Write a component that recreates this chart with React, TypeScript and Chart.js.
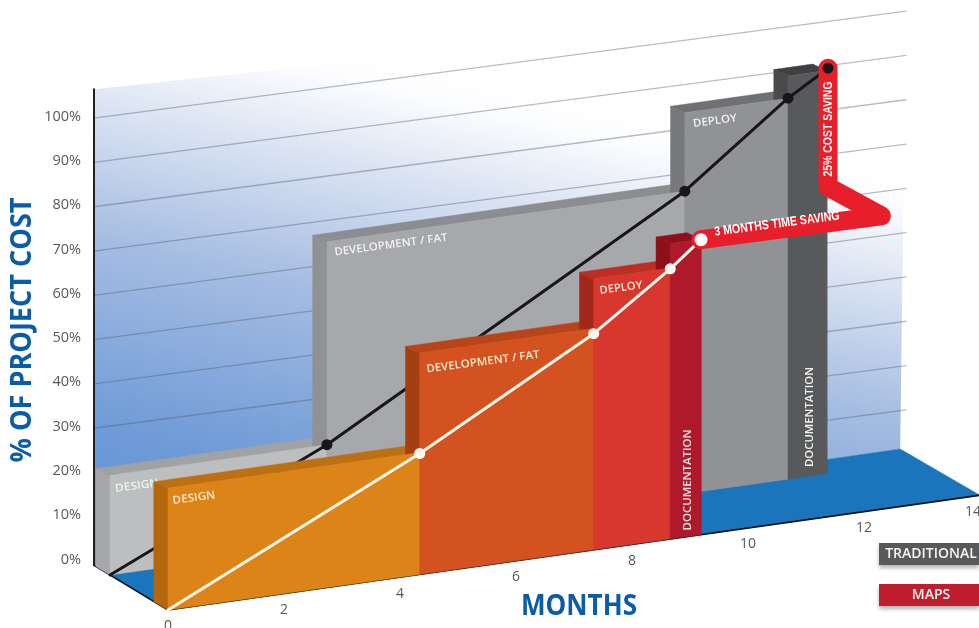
import React, { useEffect, useRef } from "react";
import { Chart, registerables } from "chart.js";

Chart.register(...registerables);

// ---- values ----
const monthTicks = [0, 2, 4, 6, 8, 10, 12, 14];
const percentTicks = [0, 10, 20, 30, 40, 50, 60, 70, 80, 90, 100];
const gridPercents = [100, 90, 80, 70, 60, 50, 40, 30, 20, 10];
const wallTopLeft = 107.5;
const wallTopRight = 103;
const wallFootRight = 2.3;

// phase edges (months) and heights (% cost)
const phases = ["DESIGN", "DEVELOPMENT / FAT", "DEPLOY", "DOCUMENTATION"];
const traditionalEdges = [0, 3.74, 9.91, 11.69, 12.36];
const traditionalHeights = [22.5, 68.3, 86, 91];
const mapsEdges = [0, 4.34, 7.34, 8.66, 9.19];
const mapsHeights = [27.5, 50, 61.2, 66.7];

// cumulative cost lines
const traditionalLineMonths = [0, 3.74, 9.91, 11.69, 12.38];
const traditionalLineCost = [0, 22.5, 68.3, 86, 91.5];
const mapsLineMonths = [0, 4.34, 7.34, 8.66, 9.19];
const mapsLineCost = [0, 27.3, 48.8, 61, 66.6];

// saving callout: from the traditional end, round the elbow, to the MAPS end
const calloutMonths = [12.38, 12.38, 12.3, 9.19];
const calloutCost = [91.5, 64.7, 66.2, 66.6];
const calloutDepth = [1, 1, 0, 0];

// ---- oblique projection of (month, cost, depth) on to the chart's scales ----
const RISE = 1.85;
const WALL_RISE = 1.725;
const DEPTH_Y = 7.9;
const ORIGIN = -11.4;
const WALL = 1.276;
const GRID_LIFT = 0.95;
const EXTRUDE_X = 0.245;
const EXTRUDE_Y = 0.185;

const project = (m: number, h: number, z = 0, zy = z, rise = RISE) => ({
  x: m - z,
  y: h + rise * m + DEPTH_Y * zy + ORIGIN,
});

type Pt = { x: number; y: number };
const poly = (pts: Pt[], color: any) => ({
  type: "scatter" as const,
  data: [...pts, pts[0]],
  showLine: true,
  fill: "shape",
  backgroundColor: color,
  borderColor: typeof color === "string" ? color : "rgba(0,0,0,0)",
  borderWidth: typeof color === "string" ? 0.5 : 0,
  pointRadius: 0,
  tension: 0,
  clip: false as const,
});
const stroke = (pts: Pt[], color: string, width: number) => ({
  type: "scatter" as const,
  data: pts,
  showLine: true,
  fill: false,
  borderColor: color,
  backgroundColor: color,
  borderWidth: width,
  borderJoinStyle: "round" as const,
  borderCapStyle: "round" as const,
  pointRadius: 0,
  tension: 0,
  clip: false as const,
});
const dots = (pts: Pt[], color: string, radius: number) => ({
  type: "scatter" as const,
  data: pts,
  showLine: false,
  backgroundColor: color,
  borderColor: color,
  pointRadius: radius,
  pointBorderWidth: 0,
  clip: false as const,
});

// sides and tops of all the phases go first, the front faces cover what is below them
const blocks = (
  edges: number[],
  heights: number[],
  z: number,
  colors: { front: string; top: string; side: string }[]
) => {
  const zb = z + EXTRUDE_X;
  const zyb = z + EXTRUDE_Y;
  const back = heights.flatMap((h, i) => {
    const m0 = edges[i];
    const m1 = edges[i + 1];
    return [
      poly(
        [project(m0, h, zb, zyb), project(m0, h, z), project(m0, 0, z), project(m0, 0, zb, zb)],
        colors[i].side
      ),
      poly(
        [project(m0, h, zb, zyb), project(m1, h, zb, zyb), project(m1, h, z), project(m0, h, z)],
        colors[i].top
      ),
    ];
  });
  const front = heights.map((h, i) =>
    poly(
      [project(edges[i], h, z), project(edges[i + 1], h, z), project(edges[i + 1], 0, z), project(edges[i], 0, z)],
      colors[i].front
    )
  );
  return [...back, ...front];
};

const traditionalColors = [
  { front: "#bcbec0", top: "#a1a2a5", side: "#a6a7aa" },
  { front: "#a6a8ab", top: "#8b8d90", side: "#8f9194" },
  { front: "#909295", top: "#6f7073", side: "#77787b" },
  { front: "#58595b", top: "#404042", side: "#4a4a4c" },
];
const mapsColors = [
  { front: "#dd8419", top: "#bd7012", side: "#b4660c" },
  { front: "#d4521f", top: "#b9441a", side: "#a53e10" },
  { front: "#d7372c", top: "#bd2f23", side: "#a3281b" },
  { front: "#ae1a2b", top: "#8f101d", side: "#8e1119" },
];

const wallGradient = (ctx: any) => {
  const c = ctx.chart.ctx as CanvasRenderingContext2D;
  const g = c.createLinearGradient(250, 30, 127, 576);
  g.addColorStop(0, "#ffffff");
  g.addColorStop(0.05, "#fbfcfe");
  g.addColorStop(0.16, "#e2e9f5");
  g.addColorStop(0.42, "#a6bde2");
  g.addColorStop(0.75, "#6f9bd7");
  g.addColorStop(1, "#5a8fd6");
  return g;
};

const buildDatasets = () => {
  const traditionalLine = traditionalLineMonths.map((m, i) => project(m, traditionalLineCost[i], 1));
  const mapsLine = mapsLineMonths.map((m, i) => project(m, mapsLineCost[i], 0));
  const callout = calloutMonths.map((m, i) => project(m, calloutCost[i], calloutDepth[i]));
  const wallRightEnd = monthTicks[monthTicks.length - 1];
  const wallFoot = project(wallRightEnd - 0.1, wallFootRight, WALL, WALL, WALL_RISE);

  const before: any[] = [
    poly(
      [
        project(0, wallTopLeft, WALL, WALL, WALL_RISE),
        project(wallRightEnd, wallTopRight, WALL, WALL, WALL_RISE),
        wallFoot,
        project(0, 0, WALL),
      ],
      wallGradient
    ),
    ...gridPercents.map((p) =>
      stroke(
        [
          project(0, p + GRID_LIFT, WALL, WALL, WALL_RISE),
          project(wallRightEnd, p + GRID_LIFT, WALL, WALL, WALL_RISE),
        ],
        "rgba(85,95,115,0.42)",
        1.3
      )
    ),
    poly([project(0, 0, WALL), project(0, 0, 0), project(wallRightEnd, 0, 0), wallFoot], "#1b75bc"),
    stroke([project(0, wallTopLeft, WALL, WALL, WALL_RISE), project(0, 0, WALL)], "#231f20", 2),
    stroke([project(0, 0, WALL), project(0, 0, 0), project(wallRightEnd, 0, 0)], "#111111", 1.6),
    ...blocks(traditionalEdges, traditionalHeights, 1, traditionalColors),
    stroke(traditionalLine, "#17171a", 3),
  ];
  const traditionalDone = dots(traditionalLine.slice(1, 4), "#17171a", 5.5);
  const middle: any[] = [
    ...blocks(mapsEdges, mapsHeights, 0, mapsColors),
    stroke(mapsLine, "#fff8ee", 3),
  ];
  const mapsDone = dots(mapsLine.slice(1, 4), "#fff8ee", 5.5);
  const after: any[] = [
    stroke(callout, "#e81f2a", 19),
    dots([mapsLine[mapsLine.length - 1]], "#ffffff", 6.5),
    dots([traditionalLine[traditionalLine.length - 1]], "#17171a", 5.5),
  ];
  const painted = [
    ...before,
    { ...traditionalDone, labelLayer: "traditional" },
    ...middle,
    { ...mapsDone, labelLayer: "maps" },
    ...after,
  ];
  const n = painted.length;
  return painted.map((d, i) => ({ ...d, order: n - i }));
};

type Label = {
  text: string;
  x: number;
  y: number;
  w: number;
  angle: number;
  font: string;
  color: string;
  layer: "traditional" | "maps" | "top";
};
const SANS = '"Open Sans", "Noto Sans", sans-serif';
const NARROW = '"Liberation Sans", sans-serif';
const labels: Label[] = [
  { text: phases[0], x: 137, y: 486, w: 44, angle: -7.5, font: `600 11px ${SANS}`, color: "#f1f1f1", layer: "traditional" },
  { text: phases[1], x: 391, y: 245, w: 114, angle: -7.5, font: `600 11px ${SANS}`, color: "#f1f1f1", layer: "traditional" },
  { text: phases[2], x: 715, y: 121, w: 44, angle: -7.5, font: `600 11px ${SANS}`, color: "#f1f1f1", layer: "traditional" },
  { text: phases[3], x: 810, y: 417, w: 100, angle: -90, font: `600 11px ${SANS}`, color: "#f1f1f1", layer: "traditional" },
  { text: phases[0], x: 194, y: 498, w: 43, angle: -7.5, font: `600 11px ${SANS}`, color: "#fdebd0", layer: "maps" },
  { text: phases[1], x: 483, y: 362, w: 114, angle: -7.5, font: `600 11px ${SANS}`, color: "#fdebd0", layer: "maps" },
  { text: phases[2], x: 621, y: 288, w: 43, angle: -7.5, font: `600 11px ${SANS}`, color: "#fdebd0", layer: "maps" },
  { text: phases[3], x: 688, y: 480, w: 101, angle: -90, font: `600 11px ${SANS}`, color: "#f5e3e3", layer: "maps" },
  { text: "3 MONTHS TIME SAVING", x: 777, y: 224, w: 126, angle: -7.5, font: `bold 13px ${NARROW}`, color: "#ffffff", layer: "top" },
  { text: "25% COST SAVING", x: 829, y: 129, w: 95, angle: -90, font: `bold 12.5px ${NARROW}`, color: "#f7f7f7", layer: "top" },
  { text: "% OF PROJECT COST", x: 23, y: 330, w: 265, angle: -90, font: `bold 28px ${SANS}`, color: "#0b5ca8", layer: "top" },
  { text: "MONTHS", x: 579, y: 607, w: 116, angle: 0, font: `bold 28px ${SANS}`, color: "#0b5ca8", layer: "top" },
];

const legendEntries = [
  { text: "TRADITIONAL", color: "#58595b", y: 543 },
  { text: "MAPS", color: "#be1e2d", y: 584 },
];

const drawText = (ctx: CanvasRenderingContext2D, l: Label) => {
  ctx.save();
  ctx.translate(l.x, l.y);
  ctx.rotate((l.angle * Math.PI) / 180);
  ctx.font = l.font;
  ctx.scale(l.w / ctx.measureText(l.text).width, 1);
  ctx.fillStyle = l.color;
  ctx.textAlign = "center";
  ctx.textBaseline = "middle";
  ctx.fillText(l.text, 0, 0);
  ctx.restore();
};

const annotations = {
  id: "annotations",
  afterDatasetDraw(chart: any, args: any) {
    const ctx = chart.ctx as CanvasRenderingContext2D;
    const layer = chart.data.datasets[args.index].labelLayer;
    if (layer) labels.filter((l) => l.layer === layer).forEach((l) => drawText(ctx, l));
  },
  afterDraw(chart: any) {
    const ctx = chart.ctx as CanvasRenderingContext2D;
    const xs = chart.scales.x;
    const ys = chart.scales.y;
    labels.filter((l) => l.layer === "top").forEach((l) => drawText(ctx, l));
    ctx.save();
    ctx.font = `14px ${SANS}`;
    ctx.fillStyle = "#58595b";
    ctx.textAlign = "center";
    ctx.textBaseline = "middle";
    monthTicks.forEach((m) => {
      const p = project(m, -3.7, 0);
      // the last label is pulled back so that it stays on the page
      const nudge = m === monthTicks[monthTicks.length - 1] ? -0.12 : 0;
      ctx.fillText(String(m), xs.getPixelForValue(p.x + nudge), ys.getPixelForValue(p.y));
    });
    ctx.restore();
    legendEntries.forEach((e) => {
      ctx.save();
      ctx.shadowColor = "rgba(0,0,0,0.3)";
      ctx.shadowBlur = 4;
      ctx.shadowOffsetY = 3;
      ctx.fillStyle = e.color;
      ctx.fillRect(879, e.y, 100, 22);
      ctx.restore();
      ctx.save();
      ctx.font = `600 14px ${SANS}`;
      ctx.fillStyle = "#f4f4f4";
      ctx.textAlign = "center";
      ctx.textBaseline = "middle";
      ctx.fillText(e.text, 931, e.y + 11);
      ctx.restore();
    });
  },
};

export default function App() {
  const ref = useRef<HTMLCanvasElement>(null);
  useEffect(() => {
    const chart = new Chart(ref.current as HTMLCanvasElement, {
      type: "scatter",
      data: { datasets: buildDatasets() as any },
      plugins: [annotations],
      options: {
        animation: false,
        responsive: false,
        devicePixelRatio: 1,
        layout: { padding: 0, autoPadding: false },
        plugins: { legend: { display: false }, tooltip: { enabled: false }, title: { display: false } },
        scales: {
          x: { type: "linear", display: false, min: -1.276, max: 13.983 },
          y: {
            type: "linear",
            min: -15.46,
            max: 126.3,
            grid: { display: false },
            border: { display: false },
            afterFit: (s: any) => {
              s.width = 94;
              s.paddingTop = 0;
              s.paddingBottom = 0;
            },
            afterBuildTicks: (s: any) => {
              s.ticks = percentTicks.map((value) => ({ value }));
            },
            ticks: {
              padding: 5,
              color: "#58595b",
              font: { family: "Open Sans", size: 14.5 },
              callback: (v: any) => `${v}%`,
            },
          },
        },
      } as any,
    });
    return () => chart.destroy();
  }, []);
  return (
    <div style={{ position: "absolute", left: 0, top: 0, width: 979, height: 628, background: "#fff", overflow: "hidden" }}>
      <canvas ref={ref} width={979} height={628} style={{ display: "block" }} />
    </div>
  );
}
